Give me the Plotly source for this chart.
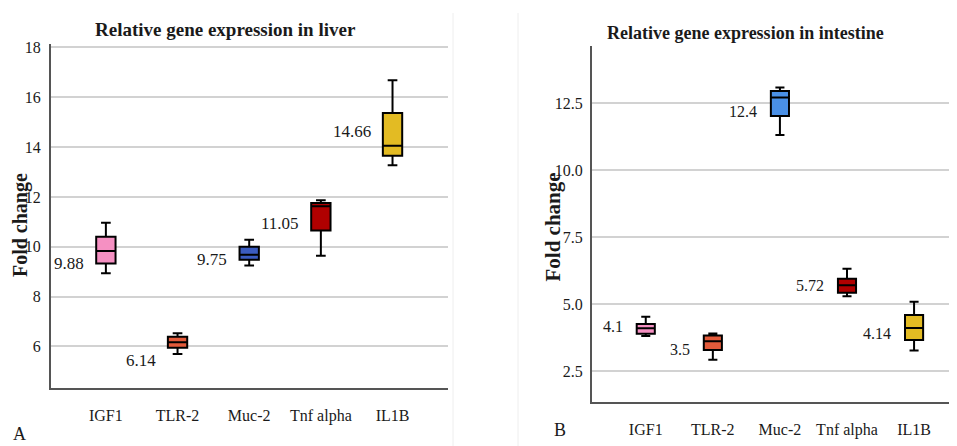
import plotly.graph_objects as go

# Window is 957x446; the page body has an 8px margin, so the figure is 949x438
OFF = 8
W, H = 957 - OFF, 446 - OFF

genes = ["IGF1", "TLR-2", "Muc-2", "Tnf alpha", "IL1B"]

# Liver panel (A)
liver_lower = [8.94, 5.70, 9.25, 9.64, 13.27]
liver_q1 = [9.33, 5.95, 9.48, 10.65, 13.65]
liver_median = [9.83, 6.17, 9.68, 11.63, 14.05]
liver_q3 = [10.40, 6.39, 10.00, 11.76, 15.37]
liver_upper = [10.96, 6.53, 10.28, 11.87, 16.68]
liver_means = ["9.88", "6.14", "9.75", "11.05", "14.66"]
liver_label_y = [9.31, 5.45, 9.47, 10.94, 14.63]
liver_colors = ["#F590C2", "#E35B3B", "#3B5CC0", "#B00000", "#E3BB23"]
liver_ticks = [6, 8, 10, 12, 14, 16, 18]

# Intestine panel (B)
int_lower = [3.81, 2.93, 11.32, 5.30, 3.27]
int_q1 = [3.90, 3.29, 12.03, 5.43, 3.66]
int_median = [4.10, 3.62, 12.72, 5.71, 4.11]
int_q3 = [4.26, 3.83, 12.96, 5.95, 4.60]
int_upper = [4.53, 3.91, 13.09, 6.32, 5.09]
int_means = ["4.1", "3.5", "12.4", "5.72", "4.14"]
int_label_y = [4.15, 3.31, 12.20, 5.68, 3.92]
int_colors = ["#F590C2", "#E35B3B", "#4A90E6", "#B00000", "#E3BB23"]
int_ticks = [2.5, 5.0, 7.5, 10.0, 12.5]

FONT = "Liberation Serif, Times New Roman, serif"
TXT = "#1a1a1a"

fig = go.Figure()

def add_boxes(xref, yref, lower, q1, med, q3, upper, colors):
    for i, g in enumerate(genes):
        fig.add_trace(go.Box(
            x=[g], q1=[q1[i]], median=[med[i]], q3=[q3[i]],
            lowerfence=[lower[i]], upperfence=[upper[i]],
            fillcolor=colors[i], line=dict(color="black", width=2),
            width=0.27, whiskerwidth=0.5, boxpoints=False,
            showlegend=False, xaxis=xref, yaxis=yref, hoverinfo="skip"))

add_boxes("x", "y", liver_lower, liver_q1, liver_median, liver_q3, liver_upper, liver_colors)
add_boxes("x2", "y2", int_lower, int_q1, int_median, int_q3, int_upper, int_colors)

def px_x(p):
    return (p - OFF) / W

def px_y(p):
    return 1 - (p - OFF) / H

axis_common = dict(showline=True, linecolor="#555555", linewidth=1.5, ticks="",
                   tickfont=dict(family=FONT, size=16, color=TXT),
                   zeroline=False, fixedrange=True)

fig.update_layout(
    width=W, height=H, margin=dict(l=0, r=0, t=0, b=0),
    paper_bgcolor="white", plot_bgcolor="white",
    font=dict(family=FONT, color=TXT),
    xaxis=dict(domain=[px_x(50.7), px_x(447.7)], range=[-0.77, 4.77], type="category",
               categoryorder="array", categoryarray=genes, showgrid=False,
               anchor="y", ticklabelstandoff=12, **axis_common),
    yaxis=dict(domain=[px_y(387.7), px_y(39)], range=[4.32, 18.15], tickvals=liver_ticks,
               showgrid=True, gridcolor="#d2d2d2", gridwidth=1.5, anchor="x",
               ticklabelstandoff=5, **axis_common),
    xaxis2=dict(domain=[px_x(591.7), 1.0], range=[-0.806, 4.64], type="category",
                categoryorder="array", categoryarray=genes, showgrid=False,
                anchor="y2", ticklabelstandoff=12, **axis_common),
    yaxis2=dict(domain=[px_y(401.7), px_y(41.7)], range=[1.34, 14.63], tickvals=int_ticks,
                tickformat=".1f", showgrid=True, gridcolor="#d2d2d2", gridwidth=1.5,
                anchor="x2", ticklabelstandoff=4, **axis_common),
)

annotations = []
for i, g in enumerate(genes):
    annotations.append(dict(x=g, y=liver_label_y[i], xref="x", yref="y", text=liver_means[i],
                            showarrow=False, xanchor="right", yanchor="middle", xshift=-20,
                            font=dict(family=FONT, size=17, color=TXT)))
    annotations.append(dict(x=g, y=int_label_y[i], xref="x2", yref="y2", text=int_means[i],
                            showarrow=False, xanchor="right", yanchor="middle", xshift=-21,
                            font=dict(family=FONT, size=16, color=TXT)))

# Titles
annotations.append(dict(x=px_x(225), y=px_y(25), xref="paper", yref="paper",
                        text="<b>Relative gene expression in liver</b>", showarrow=False,
                        xanchor="center", yanchor="middle",
                        font=dict(family=FONT, size=19, color=TXT)))
annotations.append(dict(x=px_x(745), y=px_y(28), xref="paper", yref="paper",
                        text="<b>Relative gene expression in intestine</b>", showarrow=False,
                        xanchor="center", yanchor="middle",
                        font=dict(family=FONT, size=18, color=TXT)))
# Axis titles
annotations.append(dict(x=0, y=px_y(223), xref="paper", yref="paper",
                        text="<b>Fold change</b>", showarrow=False, textangle=-90,
                        xanchor="left", yanchor="middle", borderpad=0,
                        font=dict(family=FONT, size=20, color=TXT)))
annotations.append(dict(x=px_x(553), y=px_y(225), xref="paper", yref="paper",
                        text="<b>Fold change</b>", showarrow=False, textangle=-90,
                        xanchor="center", yanchor="middle", borderpad=0,
                        font=dict(family=FONT, size=21, color=TXT)))
# Panel letters
annotations.append(dict(x=px_x(19), y=0, xref="paper", yref="paper", text="A",
                        showarrow=False, xanchor="center", yanchor="bottom",
                        font=dict(family=FONT, size=18, color=TXT)))
annotations.append(dict(x=px_x(560), y=px_y(430), xref="paper", yref="paper", text="B",
                        showarrow=False, xanchor="center", yanchor="middle",
                        font=dict(family=FONT, size=18, color=TXT)))

fig.update_layout(annotations=annotations)

# Faint panel borders
for xp in [453, 518]:
    fig.add_shape(type="line", xref="paper", yref="paper", x0=px_x(xp), x1=px_x(xp),
                  y0=0, y1=1, line=dict(color="#eeeeee", width=1))

fig.write_html("out.html")
